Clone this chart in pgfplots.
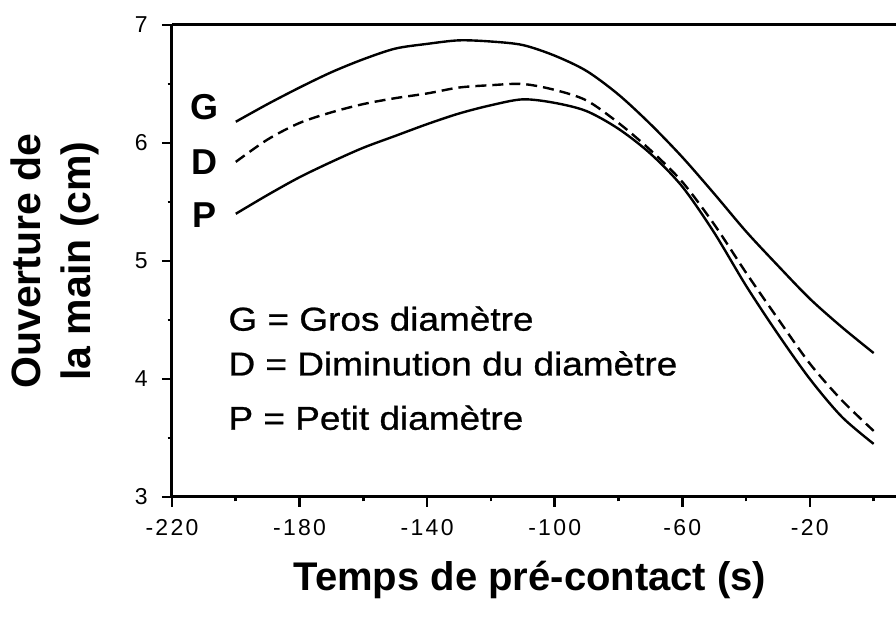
\documentclass[border=0pt]{standalone}
\usepackage{fontspec}
\setmainfont{Liberation Sans}
\newfontfamily\tickfont{Liberation Sans}[LetterSpace=10]
\newfontfamily\widefont{Liberation Sans}[FakeStretch=1.12, FakeBold=0.8]
\usepackage{pgfplots}
\pgfplotsset{compat=1.18}
\begin{document}
\begin{tikzpicture}[x=1pt,y=1pt]
\path[use as bounding box] (-86,-62) rectangle (362,248.5);
\begin{axis}[at={(0,0)}, anchor=south west, scale only axis,
  width=362pt, height=236pt,
  xmin=-220, xmax=7, ymin=3, ymax=7,
  axis lines*=left,
  axis line style={line width=1.5pt},
  /pgf/number format/assume math mode=true,
  xtick={-220,-180,-140,-100,-60,-20},
  xticklabels={-220,-180,-140,-100,-60,-20},
  minor xtick={-200,-160,-120,-80,-40,0},
  ytick={3,4,5,6,7},
  minor ytick={3.5,4.5,5.5,6.5},
  tick align=outside,
  major tick length=5pt, minor tick length=2.2pt,
  every tick/.style={black, line width=1.3pt},
  xticklabel style={font=\tickfont\fontsize{11.5}{12}\selectfont, inner sep=0pt, yshift=-6pt},
  yticklabel style={font=\fontsize{11.5}{12}\selectfont, inner sep=0pt, xshift=-7pt},
  xlabel={Temps de pré-contact (s)},
  xlabel style={font=\bfseries\fontsize{20}{24}\selectfont, at={(axis description cs:0.4945,-0.1758)}, anchor=center},
  ylabel={Ouverture de\\la main (cm)},
  ylabel style={font=\bfseries\fontsize{20.5}{25}\selectfont, align=center, at={(axis description cs:-0.1616,0.5)}, anchor=center},
  clip=false,
]
\addplot[black, line width=1.2pt, smooth] coordinates {
(-200,6.18) (-190,6.33) (-180,6.47) (-170,6.60) (-160,6.71) (-150,6.80) (-140,6.84)
(-130,6.87) (-120,6.86) (-110,6.83) (-100,6.74) (-90,6.61) (-80,6.41) (-70,6.16)
(-60,5.88) (-50,5.57) (-40,5.25) (-30,4.96) (-20,4.68) (-10,4.44) (0,4.22)};
\addplot[black, line width=1.2pt, smooth, dash pattern=on 5.5pt off 3pt] coordinates {
(-200,5.84) (-190,6.03) (-180,6.17) (-170,6.26) (-160,6.33) (-150,6.38) (-140,6.42)
(-130,6.47) (-120,6.49) (-110,6.50) (-100,6.45) (-90,6.36) (-80,6.17) (-70,5.94)
(-60,5.67) (-50,5.31) (-40,4.90) (-30,4.51) (-20,4.13) (-10,3.82) (0,3.56)};
\addplot[black, line width=1.2pt, smooth] coordinates {
(-200,5.40) (-190,5.56) (-180,5.71) (-170,5.84) (-160,5.96) (-150,6.06) (-140,6.16)
(-130,6.25) (-120,6.32) (-110,6.37) (-100,6.34) (-90,6.27) (-80,6.12) (-70,5.91)
(-60,5.63) (-50,5.24) (-40,4.79) (-30,4.38) (-20,4.00) (-10,3.68) (0,3.45)};
\draw[line width=1.5pt] (rel axis cs:0,1) -- (rel axis cs:1,1);
\node[font=\bfseries\fontsize{18}{20}\selectfont] at (axis cs:-209.7,6.30) {G};
\node[font=\bfseries\fontsize{18}{20}\selectfont] at (axis cs:-209.7,5.84) {D};
\node[font=\bfseries\fontsize{18}{20}\selectfont] at (axis cs:-209.7,5.39) {P};
\node[font=\widefont\fontsize{16.5}{18}\selectfont, anchor=base west] at (axis cs:-204.5,4.41) {G = Gros diamètre};
\node[font=\widefont\fontsize{16.5}{18}\selectfont, anchor=base west] at (axis cs:-204.5,4.03) {D = Diminution du diamètre};
\node[font=\widefont\fontsize{16.5}{18}\selectfont, anchor=base west] at (axis cs:-204.5,3.57) {P = Petit diamètre};
\end{axis}
\end{tikzpicture}
\end{document}
